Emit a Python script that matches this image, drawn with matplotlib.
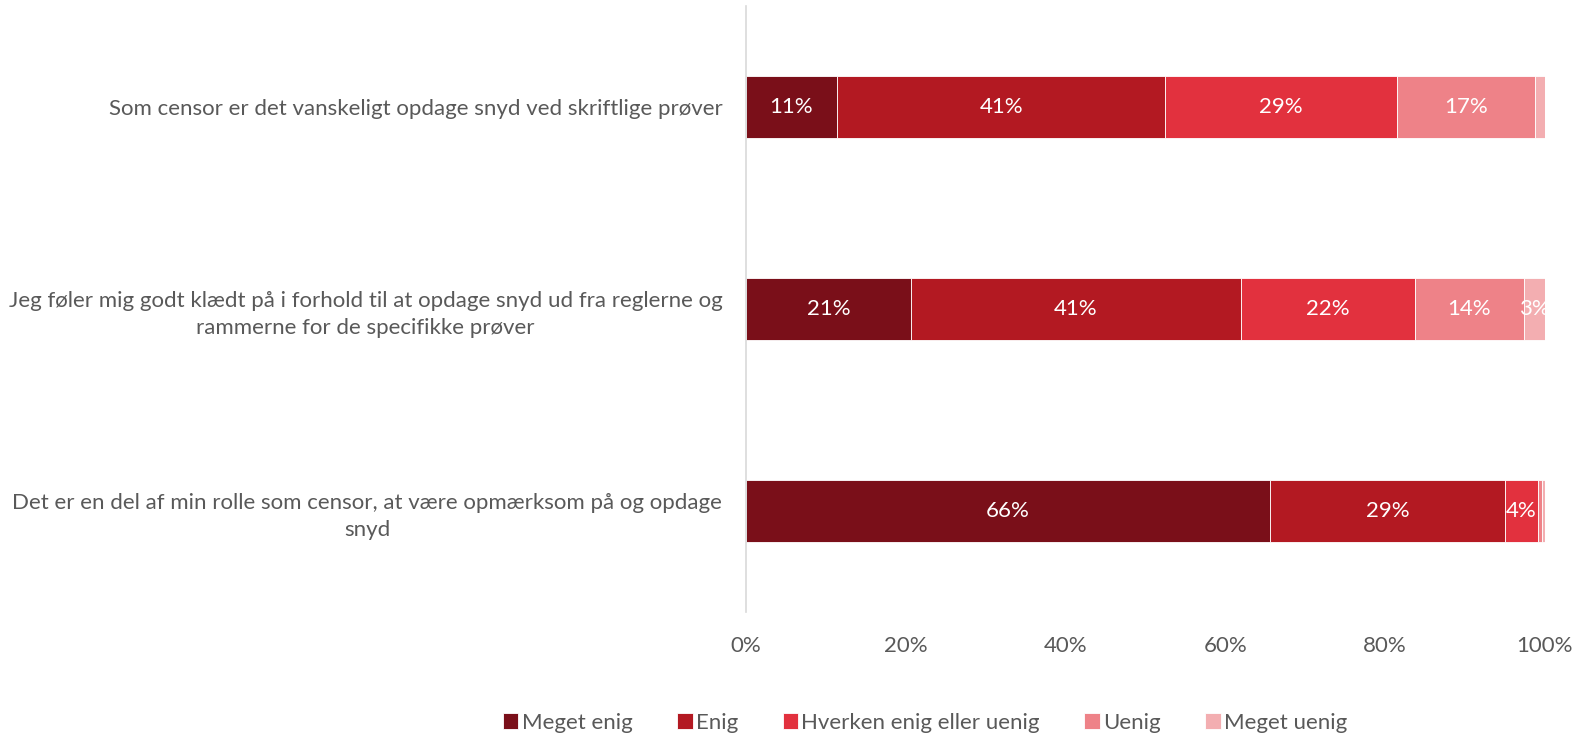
import matplotlib
matplotlib.use("Agg")
import matplotlib.pyplot as plt
import numpy as np

plt.rcParams['font.family'] = ['Lato', 'DejaVu Sans']

categories = [
    "Som censor er det vanskeligt opdage snyd ved skriftlige prøver",
    "Jeg føler mig godt klædt på i forhold til at opdage snyd ud fra reglerne og\nrammerne for de specifikke prøver",
    "Det er en del af min rolle som censor, at være opmærksom på og opdage\nsnyd",
]
series = ["Meget enig", "Enig", "Hverken enig eller uenig", "Uenig", "Meget uenig"]
meget_enig = [11.4, 20.7, 65.6]
enig = [41.1, 41.2, 29.4]
hverken = [29.0, 21.8, 4.1]
uenig = [17.2, 13.7, 0.5]
meget_uenig = [1.3, 2.6, 0.4]
values = [meget_enig, enig, hverken, uenig, meget_uenig]
colors = ["#7A0F19", "#B31922", "#E2313E", "#EE8288", "#F3AEB1"]
xticks = [0, 20, 40, 60, 80, 100]
xticklabels = ["0%", "20%", "40%", "60%", "80%", "100%"]

fig = plt.figure(figsize=(15.87, 7.33), dpi=100)
ax = fig.add_axes([0.470, 0.165, 0.5035, 0.827])

y = np.arange(len(categories))
left = np.zeros(len(categories))
handles = []
for name, vals, col in zip(series, values, colors):
    vals = np.array(vals)
    b = ax.barh(y, vals, left=left, height=0.31, color=col, edgecolor="white",
                linewidth=0.6, label=name)
    handles.append(b)
    for yi, v, l in zip(y, vals, left):
        if v >= 2:
            ax.text(l + v / 2, yi, f"{v:.0f}%", ha="center", va="center",
                    color="white", fontsize=16)
    left = left + vals

ax.set_xlim(0, 100)
ax.set_ylim(2.5, -0.5)
ax.set_yticks(y)
ax.set_yticklabels(categories, fontsize=16, color="#595959", multialignment="center",
                   linespacing=1.45)
ax.set_xticks(xticks)
ax.set_xticklabels(xticklabels, fontsize=16, color="#595959")
ax.tick_params(axis="both", length=0)
ax.tick_params(axis="y", pad=17)
ax.tick_params(axis="x", pad=17)
for s in ["top", "right", "bottom"]:
    ax.spines[s].set_visible(False)
ax.spines["left"].set_color("#D9D9D9")
ax.spines["left"].set_linewidth(1.2)

leg = fig.legend(handles=handles, labels=series, loc="center", bbox_to_anchor=(0.583, 0.014),
                 ncol=5, frameon=False, fontsize=16, handlelength=0.7, handleheight=0.7,
                 handletextpad=0.15, columnspacing=2.0)
for t in leg.get_texts():
    t.set_color("#595959")

fig.savefig("out.png", dpi=100)
